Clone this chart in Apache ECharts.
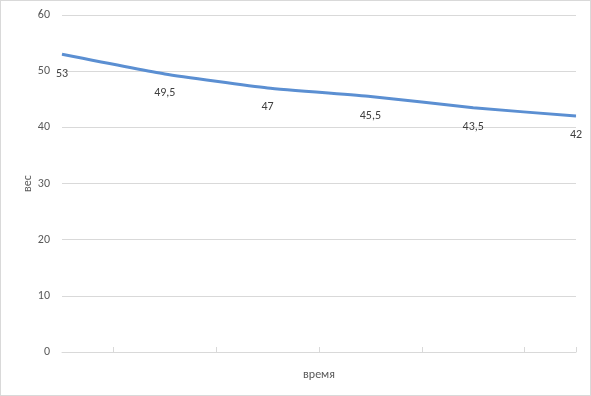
<!DOCTYPE html>
<html><head><meta charset="utf-8">
<script src="https://cdn.jsdelivr.net/npm/echarts@6/dist/echarts.min.js"></script>
<style>html,body{margin:0;padding:0;background:#fff}#c{width:591px;height:396px;box-sizing:border-box;border:1px solid #d9d9d9}</style>
</head><body><div id="c"></div>
<script>
const categories = [1, 2, 3, 4, 5, 6];
const weights = [53, 49.5, 47, 45.5, 43.5, 42];
const yTicks = [0, 10, 20, 30, 40, 50, 60];
const xTickPositions = [0.5, 1.5, 2.5, 3.5, 4.5, 5];

const chart = echarts.init(document.getElementById('c'), null, {renderer: 'canvas'});
const font = 'Calibri, Carlito, "Open Sans", "Liberation Sans", sans-serif';
chart.setOption({
  animation: false,
  grid: {left: 61, right: 14, top: 14, bottom: 43},
  xAxis: {
    type: 'value', min: 0, max: categories.length - 1,
    name: 'время', nameLocation: 'middle', nameGap: 17,
    nameTextStyle: {color: '#595959', fontSize: 12, fontFamily: font},
    axisLine: {show: true, lineStyle: {color: '#d9d9d9'}},
    axisTick: {show: true, customValues: xTickPositions, length: 5, inside: true, lineStyle: {color: '#d9d9d9'}},
    axisLabel: {show: false},
    splitLine: {show: false}
  },
  yAxis: {
    type: 'value', min: yTicks[0], max: yTicks[yTicks.length - 1], interval: 10,
    name: 'вес', nameLocation: 'middle', nameGap: 28, nameRotate: 90, nameMoveOverlap: false,
    nameTextStyle: {color: '#595959', fontSize: 12, fontFamily: font},
    axisLine: {show: false}, axisTick: {show: false},
    axisLabel: {color: '#595959', fontSize: 12, fontFamily: font, margin: 12},
    splitLine: {lineStyle: {color: '#d9d9d9'}}
  },
  series: [{
    type: 'line', smooth: 0.15,
    data: weights.map((v, i) => [i, v]),
    symbol: 'circle', symbolSize: 0.5, showSymbol: true,
    itemStyle: {color: '#5b8fd2'},
    lineStyle: {color: '#5b8fd2', width: 3},
    label: {
      show: true, position: 'bottom', distance: 13,
      color: '#404040', fontSize: 12, fontFamily: font,
      formatter: p => String(p.value[1]).replace('.', ',')
    },
    labelLayout: {hideOverlap: false}
  }]
});
</script></body></html>
